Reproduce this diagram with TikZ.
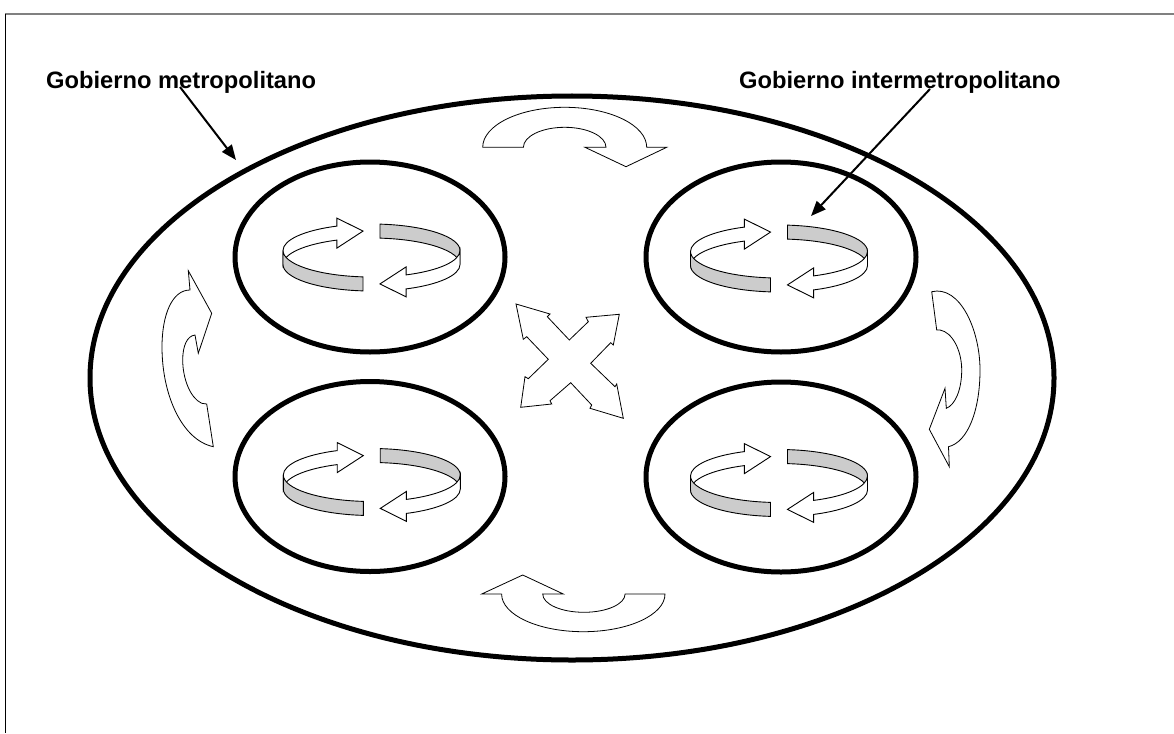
\documentclass[tikz,border=0pt]{standalone}
\usepackage{fontspec}
\setmainfont{Liberation Sans}
\usetikzlibrary{arrows.meta}
\definecolor{bandgray}{HTML}{CCCCCC}
\tikzset{
	borde/.style={draw=black,line width=5pt},
	banda/.style={draw=black,line width=0.9pt,line join=miter},
	bloque/.style={draw=black,line width=0.8pt,fill=white,line join=miter},
	rotulo/.style={font=\bfseries\fontsize{23.7}{28}\selectfont,inner sep=0pt,anchor=base west},
	flecha/.style={-{Triangle[length=15pt,width=12pt]},line width=2pt},
	anillo/.style={x radius=88.5,y radius=26.5},
	pics/ciclo/.style={code={
		\draw[banda,fill=white] (-88.5,0) arc[start angle=180,end angle=247,anillo]
			-- (-34.6,-32.4) -- (-8.5,-19.4) -- (-34.6,-2.4) -- (-34.6,-10.4)
			arc[start angle=247,end angle=180,anillo] -- cycle;
		\draw[banda,fill=bandgray] (8.48,-26.38) arc[start angle=275.5,end angle=360,anillo]
			-- ++(0,14) arc[start angle=360,end angle=275.5,anillo] -- cycle;
		\draw[banda,fill=bandgray] (-8.48,26.38) arc[start angle=95.5,end angle=180,anillo]
			-- ++(0,14) arc[start angle=180,end angle=95.5,anillo] -- cycle;
		\draw[banda,fill=white] (88.5,0) arc[start angle=0,end angle=67,anillo]
			-- (34.6,16.4) -- (8.5,33.4) -- (34.6,46.4) -- (34.6,38.4)
			arc[start angle=67,end angle=0,anillo] -- cycle;
	}}
}
\begin{document}
\begin{tikzpicture}[x=1pt,y=-1pt]
	\useasboundingbox (0,0) rectangle (1174,733);
	\draw[black!50,line width=1.3pt] (5,14)--(1174,14);
	\draw[line width=1pt] (5,14)--(5,733);
	% anillos
	\draw[borde] (572,378) ellipse[x radius=482,y radius=282];
	\foreach \cx/\cy in {370/257,781/257,370/476.5,781/477}
		\draw[borde] (\cx,\cy) ellipse[x radius=135,y radius=95];
	\foreach \cx/\cy in {371.5/250.5,779/251.5,371.8/475,779/476}
		\pic at (\cx,\cy) {ciclo};
	% flechas entre gobiernos
	\draw[bloque] (482.7,147.3) arc[start angle=180,end angle=360,x radius=82,y radius=40] -- (666.7,147.3) -- (626,166.7)
		-- (585,147.3) -- (606,147.3) arc[start angle=0,end angle=-180,x radius=41.3,y radius=20] -- cycle;
	\draw[bloque] (501.7,594) -- (481.7,594) -- (522.7,575) -- (563.3,594) -- (542.7,594)
		arc[start angle=180,end angle=0,x radius=41.2,y radius=18.3] -- (665,594) arc[start angle=0,end angle=180,x radius=81.7,y radius=37.7] -- cycle;
	\draw[bloque] (213.3,446.7) .. controls (182,440) and (162,395) .. (162,347) .. controls (162,315) and (172,290) .. (190,290)
		-- (188.3,270.7) -- (211.7,313.3) -- (198.3,353.3) -- (195,335) .. controls (187,336) and (182.7,346) .. (182.7,360)
		.. controls (182.7,378) and (190,398) .. (201.7,403.3) -- (206.7,404) -- cycle;
	\draw[bloque] (931.7,291.7) .. controls (960,285) and (980,330) .. (980,370) .. controls (980,410) and (968,442) .. (948.5,446.7)
		-- (949.3,466.7) -- (929.3,429.3) -- (945,388.3) -- (946.3,408.3) .. controls (955,405) and (961.7,390) .. (961.7,370)
		.. controls (961.7,350) and (952,332) .. (940,330) -- (936.7,330) -- cycle;
	\draw[bloque] (516,304) -- (550,314) -- (547.3,316.7) -- (569.3,340) -- (588.3,321.7) -- (586,317.3) -- (619.3,314.3)
		-- (613.3,345) -- (610.7,342.7) -- (590.7,363.3) -- (615,386.7) -- (616.7,384) -- (623.3,418.3) -- (590,408.3)
		-- (591.7,405) -- (570.7,382.7) -- (550,400.7) -- (551.7,404) -- (520.7,407.3) -- (525,376.7) -- (528.3,378.7)
		-- (548.3,359.3) -- (526.7,336.7) -- (523.3,339.3) -- cycle;
	% rotulos
	\node[rotulo] (metro) at (46,89) {Gobierno metropolitano};
	\node[rotulo] (inter) at (739,89) {Gobierno intermetropolitano};
	\coordinate (metroA) at (180,87); \coordinate (metroB) at (236,160);
	\coordinate (interA) at (930,89); \coordinate (interB) at (811,216);
	\draw[flecha] (metroA)--(metroB);
	\draw[flecha] (interA)--(interB);
\end{tikzpicture}
\end{document}
